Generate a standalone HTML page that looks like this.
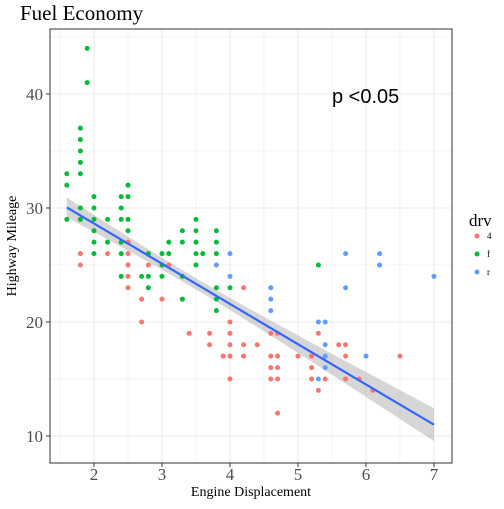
<!DOCTYPE html>
<html><head><meta charset="utf-8"><style>
body{margin:0;background:#fff}
svg text{font-family:"Liberation Serif",serif}
</style></head><body>
<svg width="504" height="504" xmlns="http://www.w3.org/2000/svg">
<text x="20" y="20" font-size="21">Fuel Economy</text>
<g id="grid"></g>
<g id="ribbon-g"></g>
<g id="pts"></g>
<g id="fit-g"></g>
<rect x="50" y="29" width="402" height="434" fill="none" stroke="#333" stroke-width="1"/>
<g id="axes"></g>
<text x="332" y="103" font-size="20" style="font-family:'Liberation Sans',sans-serif">p &lt;0.05</text>
<text x="251" y="496" font-size="14" text-anchor="middle">Engine Displacement</text>
<text transform="translate(16,246) rotate(-90)" font-size="14" text-anchor="middle">Highway Mileage</text>
<g>
<text x="469" y="226" font-size="17">drv</text>
<circle cx="477" cy="236" r="2.5" fill="#F8766D"/>
<text x="487" y="239" font-size="9">4</text>
<circle cx="477" cy="254" r="2.5" fill="#00BA38"/>
<text x="487" y="257" font-size="9">f</text>
<circle cx="477" cy="272" r="2.5" fill="#619CFF"/>
<text x="487" y="275" font-size="9">r</text>
</g>
</svg>
<script>
const xTicks=[2,3,4,5,6,7];
const yTicks=[10,20,30,40];
const greenPts=[[1.9,44],[1.9,41],[1.8,37],[1.8,36],[1.8,35],[1.8,34],[1.8,33],[1.6,33],[1.6,32],[2.0,31],[2.4,31],[2.5,32],[2.5,31],[1.8,30],[2.0,30],[2.4,30],[1.6,29],[1.8,29],[2.0,29],[2.2,29],[2.4,29],[2.5,29],[2.0,28],[2.5,28],[2.0,27],[2.2,27],[2.4,27],[2.0,26],[2.4,26],[2.8,26],[3.0,26],[3.1,26],[2.4,24],[2.7,24],[2.8,24],[3.0,24],[2.8,23],[3.3,28],[3.5,29],[3.5,28],[3.1,27],[3.3,27],[3.5,27],[3.5,26],[3.6,26],[3.5,25],[3.3,24],[3.3,22],[3.8,28],[3.8,27],[3.8,26],[3.8,23],[3.8,22],[3.8,21],[4.0,23],[3.0,25],[5.3,25]];
const redPts=[[1.8,26],[1.8,25],[2.2,26],[2.5,27],[2.5,26],[2.5,25],[2.5,24],[2.5,23],[2.8,25],[3.1,25],[2.7,22],[3.0,22],[2.7,20],[3.4,19],[3.7,19],[4.0,20],[4.0,19],[4.2,23],[3.7,18],[4.0,18],[4.2,18],[4.4,18],[3.9,17],[4.0,17],[4.2,17],[4.6,17],[4.7,17],[5.0,17],[5.2,17],[5.7,17],[6.5,17],[4.6,19],[4.7,19],[5.3,19],[5.6,18],[5.7,18],[4.6,16],[4.7,16],[5.2,16],[4.0,15],[4.6,15],[4.7,15],[5.2,15],[5.4,15],[5.7,15],[5.9,15],[5.3,14],[6.1,14],[4.7,12]];
const bluePts=[[4.0,26],[3.8,25],[4.0,24],[5.7,26],[6.2,26],[6.2,25],[7.0,24],[5.7,23],[4.6,23],[4.6,22],[4.6,21],[5.3,20],[5.4,20],[5.4,18],[5.4,17],[6.0,17],[5.4,16],[5.3,15]];
// fitted model (full dataset incl. overplotted duplicates)
const fitCoef=[35.7,-3.53];
const fitStats=[234,3.84,3.47,387]; // n, residual sd, mean displ, Sxx

const NS="http://www.w3.org/2000/svg";
const X0=50,X1=452,Y0=29,Y1=463,D0=1.353,D1=7.265,H0=7.63,H1=45.7;
const sx=d=>X0+(d-D0)/(D1-D0)*(X1-X0);
const sy=h=>Y1-(h-H0)/(H1-H0)*(Y1-Y0);
function mk(tag,attrs,parent){const e=document.createElementNS(NS,tag);for(const k in attrs)e.setAttribute(k,attrs[k]);parent.appendChild(e);return e;}
const grid=document.getElementById('grid');
for(let d=1.5;d<=7.01;d+=0.5){const l=mk('line',{x1:sx(d),x2:sx(d),y1:Y0,y2:Y1,stroke:'#ebebeb','stroke-width':Number.isInteger(d)?1:0.6},grid);

}
for(let h=10;h<=45;h+=5){const l=mk('line',{x1:X0,x2:X1,y1:sy(h),y2:sy(h),stroke:'#ebebeb','stroke-width':h%10===0?1:0.6},grid);

}
const axes=document.getElementById('axes');
xTicks.forEach(t=>{mk('line',{x1:sx(t),x2:sx(t),y1:Y1,y2:Y1+4,stroke:'#333'},axes);
const tx=mk('text',{x:sx(t),y:480,'font-size':17,'text-anchor':'middle',fill:'#4d4d4d'},axes);tx.textContent=t;

});
yTicks.forEach(t=>{mk('line',{x1:X0-4,x2:X0,y1:sy(t),y2:sy(t),stroke:'#333'},axes);
const tx=mk('text',{x:43,y:sy(t)+6,'font-size':17,'text-anchor':'end',fill:'#4d4d4d'},axes);tx.textContent=t;

});
const pts=document.getElementById('pts');
[[redPts,'#F8766D','4'],[greenPts,'#00BA38','f'],[bluePts,'#619CFF','r']].forEach(([arr,c,n])=>arr.forEach(p=>{
const e=mk('circle',{cx:sx(p[0]),cy:sy(p[1]),r:2.5,fill:c},pts);

}));
const all=greenPts.concat(redPts,bluePts);
const a=fitCoef[0],b=fitCoef[1];
const [n,s,mx,sxx]=fitStats;
const dmin=Math.min(...all.map(p=>p[0])),dmax=Math.max(...all.map(p=>p[0]));
const up=[],lo=[];
for(let i=0;i<=80;i++){const d=dmin+(dmax-dmin)*i/80;const se=1.97*s*Math.sqrt(1/n+(d-mx)**2/sxx);const f=a+b*d;up.push(sx(d)+','+sy(f+se));lo.unshift(sx(d)+','+sy(f-se));}
const rib=mk('polygon',{points:up.concat(lo).join(' '),fill:'#999',opacity:0.4},document.getElementById('ribbon-g'));


const ln=mk('line',{x1:sx(dmin),y1:sy(a+b*dmin),x2:sx(dmax),y2:sy(a+b*dmax),stroke:'#3366FF','stroke-width':2.2},document.getElementById('fit-g'));


</script>
</body></html>
